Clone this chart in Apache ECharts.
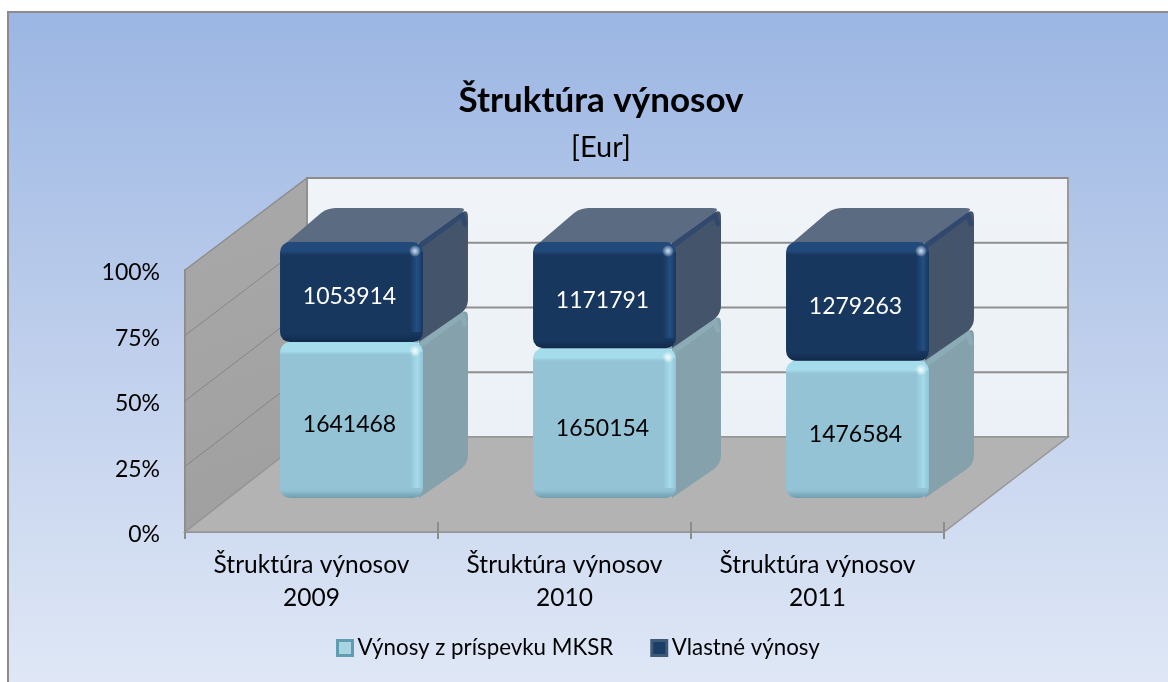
<!DOCTYPE html>
<html>
<head>
<meta charset="utf-8">
<title>Štruktúra výnosov</title>
<script src="https://cdn.jsdelivr.net/npm/echarts@6/dist/echarts.min.js"></script>
<style>
    html, body { margin: 0; padding: 0; background: #ffffff; }
    #main { width: 1168px; height: 682px; }
</style>
</head>
<body>
<div id="main"></div>
<script>
var categories = ['Štruktúra výnosov\n2009', 'Štruktúra výnosov\n2010', 'Štruktúra výnosov\n2011'];
var contribution = [1641468, 1650154, 1476584];
var ownRevenue = [1053914, 1171791, 1279263];
var yTicks = [0, 25, 50, 75, 100];
var seriesNames = ['Výnosy z príspevku MKSR', 'Vlastné výnosy'];

var FONT = 'Lato';

// 3d look: how far the back wall and the bars sit behind the axis plane
var WALL_DX = 122, WALL_DY = -95, WALL_SCALE = 259 / 262;
var BAR_SHIFT_X = 40, BAR_SHIFT_Y = -34, BAR_SCALE = 256 / 262;
var BOX_DX = 45, BOX_DY = -34;

var lightBox = {
    base: '#93c3d5', top: '#a5dcec', bottom: '#6f9db0', rim: '#a4dcea', left: '#9ccfdf',
    side: '#84a1ac', roof: '#90aeb9', edge: '#8fb0bb', shine: '#f4fdff', text: '#000000'
};
var darkBox = {
    base: '#17375e', top: '#21497a', bottom: '#11294a', rim: '#234f82', left: '#1a3e69',
    side: '#44546a', roof: '#5b6b82', edge: '#2a4570', shine: '#c4e0fa', text: '#ffffff'
};

// polygon whose listed corners get rounded off
function roundedPoints(pts, radii) {
    var out = [];
    pts.forEach(function (p, i) {
        var r = radii[i];
        if (!r) {
            out.push(p);
            return;
        }
        var a = pts[(i + pts.length - 1) % pts.length];
        var b = pts[(i + 1) % pts.length];
        var la = Math.hypot(a[0] - p[0], a[1] - p[1]);
        var lb = Math.hypot(b[0] - p[0], b[1] - p[1]);
        var s = [p[0] + (a[0] - p[0]) * r / la, p[1] + (a[1] - p[1]) * r / la];
        var e = [p[0] + (b[0] - p[0]) * r / lb, p[1] + (b[1] - p[1]) * r / lb];
        for (var k = 0; k <= 6; k++) {
            var t = k / 6;
            out.push([
                (1 - t) * (1 - t) * s[0] + 2 * t * (1 - t) * p[0] + t * t * e[0],
                (1 - t) * (1 - t) * s[1] + 2 * t * (1 - t) * p[1] + t * t * e[1]
            ]);
        }
    });
    return out;
}

function barY(api, pct) {
    var y0 = api.coord([0, 0])[1];
    return y0 + BAR_SHIFT_Y - (y0 - api.coord([0, pct])[1]) * BAR_SCALE;
}

function renderBox(api, c) {
    var center = api.coord([api.value(0), 0])[0] + BAR_SHIFT_X;
    var w = api.size([1, 0])[0] * 0.565;
    var L = center - w / 2, R = center + w / 2;
    var B = barY(api, api.value(1)), T = barY(api, api.value(2));
    var h = B - T;

    var side = roundedPoints([[R - 4, T], [R + BOX_DX, T + BOX_DY], [R + BOX_DX, B + BOX_DY], [R - 4, B]], [0, 9, 9, 0]);
    var roof = roundedPoints([[L + 6, T + 1], [L + BOX_DX + 2, T + BOX_DY], [R + BOX_DX, T + BOX_DY], [R - 4, T + 1]], [0, 9, 9, 0]);

    return {
        type: 'group',
        children: [
            { type: 'polygon', shape: { points: side }, style: { fill: c.side } },
            { type: 'polygon', shape: { points: roof }, style: { fill: c.roof } },
            {
                type: 'polyline',
                shape: { points: [[R - 3, T + 4], [R + BOX_DX - 6, T + BOX_DY + 7], [R + BOX_DX - 3, T + BOX_DY + 16]] },
                style: { stroke: c.edge, lineWidth: 5, fill: null, opacity: 0.7, lineJoin: 'round', lineCap: 'round' }
            },
            {
                type: 'rect',
                shape: { x: L, y: T, width: w, height: h, r: 10 },
                style: {
                    fill: new echarts.graphic.LinearGradient(0, 0, 0, 1, [
                        { offset: 0, color: c.top },
                        { offset: 9 / h, color: c.top },
                        { offset: 13 / h, color: c.base },
                        { offset: 1 - 8 / h, color: c.base },
                        { offset: 1, color: c.bottom }
                    ])
                }
            },
            {
                type: 'rect',
                shape: { x: R - 13, y: T + 10, width: 13, height: h - 20 },
                style: {
                    fill: new echarts.graphic.LinearGradient(0, 0, 1, 0, [
                        { offset: 0, color: c.base },
                        { offset: 0.55, color: c.rim },
                        { offset: 1, color: c.base }
                    ])
                }
            },
            {
                type: 'circle',
                shape: { cx: R - 8, cy: T + 9, r: 6 },
                style: {
                    fill: new echarts.graphic.RadialGradient(0.5, 0.5, 0.5, [
                        { offset: 0, color: c.shine },
                        { offset: 1, color: 'rgba(255,255,255,0)' }
                    ])
                }
            },
            {
                type: 'text',
                style: {
                    text: String(api.value(3)),
                    x: center - 2,
                    y: (T + B) / 2 + 5,
                    align: 'center',
                    verticalAlign: 'middle',
                    fill: c.text,
                    fontFamily: FONT,
                    fontSize: 23
                }
            }
        ]
    };
}

// left wall, floor and back wall of the 3d box
function renderWalls(api) {
    var band = api.size([1, 0])[0];
    var left = api.coord([0, 0])[0] - band / 2;
    var right = left + band * 3;
    var y0 = api.coord([0, 0])[1];
    var y100 = api.coord([0, 100])[1];
    var backY0 = y0 + WALL_DY;
    var backY100 = backY0 - (y0 - y100) * WALL_SCALE;
    var bl = left + WALL_DX, br = right + WALL_DX + 2;
    var edge = { stroke: '#8c8c8c', lineWidth: 2, fill: null };
    var ticks = [];
    for (var i = 1; i <= 3; i++) {
        ticks.push({
            type: 'line',
            shape: { x1: left + band * i, y1: y0 - 10, x2: left + band * i, y2: y0 },
            style: { stroke: '#8c8c8c', lineWidth: 2 }
        });
    }
    return {
        type: 'group',
        children: [
            {
                type: 'polygon',
                shape: { points: [[bl, backY100], [br, backY100], [br, backY0], [bl, backY0]] },
                style: {
                    fill: new echarts.graphic.LinearGradient(0, 0, 0, 1, [
                        { offset: 0, color: '#f0f4f9' },
                        { offset: 1, color: '#ebf1f6' }
                    ]),
                    stroke: '#9a9a9a',
                    lineWidth: 2
                }
            },
            {
                type: 'polygon',
                shape: { points: [[left, y0], [bl, backY0], [bl, backY100], [left, y100]] },
                style: {
                    fill: new echarts.graphic.LinearGradient(0, 0, 1, 1, [
                        { offset: 0, color: '#a9a9a9' },
                        { offset: 1, color: '#9f9f9f' }
                    ]),
                    stroke: '#8c8c8c',
                    lineWidth: 1.5
                }
            },
            {
                type: 'polygon',
                shape: { points: [[left, y0], [right, y0], [br, backY0], [bl, backY0]] },
                style: { fill: '#b3b3b3', stroke: '#979797', lineWidth: 1.5 }
            },
            { type: 'line', shape: { x1: bl, y1: backY100, x2: br, y2: backY100 }, style: edge }
        ].concat(ticks)
    };
}

function renderGridLine(api) {
    var pct = api.value(1);
    var band = api.size([1, 0])[0];
    var left = api.coord([0, 0])[0] - band / 2;
    var right = left + band * 3;
    var y0 = api.coord([0, 0])[1];
    var y = api.coord([0, pct])[1];
    var backY = y0 + WALL_DY - (y0 - y) * WALL_SCALE;
    return {
        type: 'group',
        children: [
            {
                type: 'line',
                shape: { x1: left, y1: y, x2: left + WALL_DX, y2: backY },
                style: { stroke: '#858585', lineWidth: 1 }
            },
            {
                type: 'line',
                shape: { x1: left + WALL_DX, y1: backY, x2: right + WALL_DX + 2, y2: backY },
                style: { stroke: '#8f8f8f', lineWidth: 2 }
            }
        ]
    };
}

// [category index, share from, share to, value]
var lightData = categories.map(function (c, i) {
    var total = contribution[i] + ownRevenue[i];
    return [i, 0, contribution[i] / total * 100, contribution[i]];
});
var darkData = categories.map(function (c, i) {
    var total = contribution[i] + ownRevenue[i];
    return [i, contribution[i] / total * 100, 100, ownRevenue[i]];
});

var myChart = echarts.init(document.getElementById('main'));

var option = {
    animation: false,
    graphic: [{
        type: 'rect',
        z: -10,
        shape: { x: 8, y: 12, width: 1170, height: 680 },
        style: {
            fill: new echarts.graphic.LinearGradient(0, 0, 0, 1, [
                { offset: 0, color: '#9bb6e3' },
                { offset: 0.5, color: '#bfcfec' },
                { offset: 1, color: '#e0e8f6' }
            ]),
            stroke: '#8c8c8c',
            lineWidth: 2
        }
    }],
    title: {
        text: 'Štruktúra výnosov',
        subtext: '[Eur]',
        left: 601,
        top: 83,
        textAlign: 'center',
        itemGap: 15,
        padding: 0,
        textStyle: { fontFamily: FONT, fontSize: 35, fontWeight: 'bold', color: '#000000' },
        subtextStyle: { fontFamily: FONT, fontSize: 29, color: '#000000' }
    },
    legend: {
        left: 336,
        top: 637,
        padding: 0,
        itemWidth: 15,
        itemHeight: 15,
        itemGap: 37,
        icon: 'rect',
        textStyle: { fontFamily: FONT, fontSize: 22.3, color: '#000000' },
        data: [
            { name: seriesNames[0], itemStyle: { color: '#a8d4e2', borderColor: '#5f9db1', borderWidth: 3 } },
            { name: seriesNames[1], itemStyle: { color: '#1b3d66', borderColor: '#3f5a78', borderWidth: 3 } }
        ]
    },
    grid: { left: 185, top: 270, width: 759, height: 262, containLabel: false },
    xAxis: {
        type: 'category',
        data: categories,
        axisLine: { lineStyle: { color: '#8c8c8c', width: 2 } },
        axisTick: { show: true, length: 7, lineStyle: { color: '#8c8c8c', width: 2 } },
        axisLabel: { margin: 17, lineHeight: 33, color: '#000000', fontFamily: FONT, fontSize: 24.5, interval: 0 }
    },
    yAxis: {
        type: 'value',
        min: 0,
        max: 100,
        interval: 25,
        axisLine: { show: true, lineStyle: { color: '#8c8c8c', width: 2 } },
        axisTick: { show: false },
        splitLine: { show: false },
        axisLabel: {
            margin: 25,
            formatter: '{pct|{value}%}',
            rich: { pct: { padding: [6, 0, 0, 0], color: '#000000', fontFamily: FONT, fontSize: 23 } }
        }
    },
    series: [
        {
            type: 'custom',
            name: 'walls',
            z: 1,
            silent: true,
            renderItem: function (params, api) { return renderWalls(api); },
            data: [[0, 0]]
        },
        {
            type: 'custom',
            name: 'gridlines',
            z: 2,
            silent: true,
            renderItem: function (params, api) { return renderGridLine(api); },
            data: yTicks.slice(1, 4).map(function (t) { return [0, t]; })
        },
        {
            type: 'custom',
            name: seriesNames[0],
            z: 3,
            renderItem: function (params, api) { return renderBox(api, lightBox); },
            data: lightData
        },
        {
            type: 'custom',
            name: seriesNames[1],
            z: 4,
            renderItem: function (params, api) { return renderBox(api, darkBox); },
            data: darkData
        }
    ]
};

myChart.setOption(option);
</script>
</body>
</html>
